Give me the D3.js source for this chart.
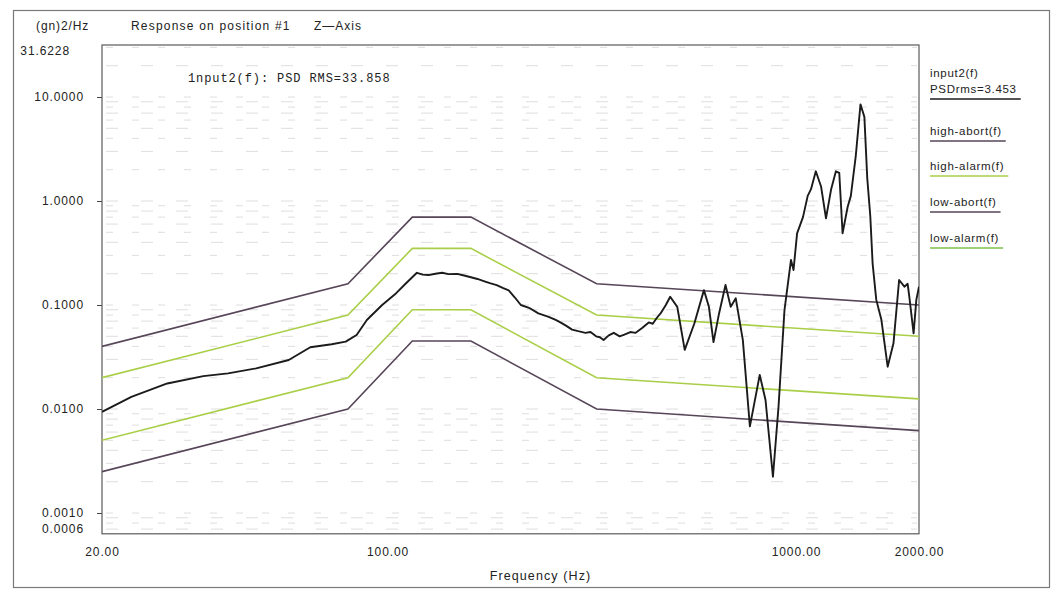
<!DOCTYPE html>
<html>
<head>
<meta charset="utf-8">
<script src="https://cdn.jsdelivr.net/npm/d3@7"></script>
<style>
  html, body { margin: 0; padding: 0; background: #fff; }
  svg { display: block; }
  text { font-family: "Liberation Sans", Arial, sans-serif; fill: #222; }
</style>
</head>
<body>
<svg id="chart" width="1056" height="592"></svg>
<script>
// ---- data ----
const respFreq = [20, 23.6, 28.9, 35.4, 40.7, 47.7, 57.3, 64.7, 73, 79, 84, 89, 97, 105, 111, 118, 122, 126, 131, 136, 141, 148, 154, 160, 166, 172, 178, 185, 192, 198, 205, 212, 222, 234, 248, 258, 265, 274, 283, 293, 305, 314, 324, 331, 338, 348, 358, 370, 380, 393, 405, 420, 436, 446, 456, 466, 480, 492, 512, 534, 564, 595, 612, 628, 648, 672, 692, 712, 741, 771, 815, 842, 878, 906, 937, 972, 986, 1006, 1040, 1068, 1088, 1118, 1152, 1184, 1218, 1252, 1276, 1300, 1338, 1362, 1400, 1438, 1470, 1494, 1520, 1540, 1572, 1618, 1676, 1732, 1788, 1842, 1876, 1894, 1940, 1970, 2000];
const respPSD  = [0.0094, 0.0131, 0.0176, 0.0207, 0.022, 0.0246, 0.0296, 0.0392, 0.0419, 0.0444, 0.0515, 0.0718, 0.1, 0.13, 0.162, 0.204, 0.196, 0.194, 0.2, 0.204, 0.198, 0.199, 0.192, 0.185, 0.178, 0.17, 0.162, 0.155, 0.145, 0.138, 0.118, 0.1, 0.094, 0.083, 0.077, 0.072, 0.068, 0.063, 0.058, 0.056, 0.054, 0.055, 0.05, 0.049, 0.046, 0.051, 0.054, 0.05, 0.052, 0.055, 0.054, 0.06, 0.068, 0.066, 0.075, 0.083, 0.1, 0.12, 0.096, 0.037, 0.0667, 0.139, 0.096, 0.044, 0.083, 0.156, 0.096, 0.116, 0.046, 0.0068, 0.0213, 0.0122, 0.00223, 0.0105, 0.0895, 0.271, 0.217, 0.489, 0.7, 1.12, 1.3, 1.93, 1.37, 0.68, 1.28, 1.93, 1.86, 0.49, 0.88, 1.12, 2.68, 8.5, 6.44, 1.66, 0.71, 0.25, 0.112, 0.072, 0.0255, 0.0428, 0.174, 0.15, 0.16, 0.12, 0.0534, 0.112, 0.15];

const limitFreq = [20, 80, 115, 160, 325, 2000];
const highAbort = [0.04, 0.16, 0.7, 0.7, 0.16, 0.1];
const highAlarm = [0.02, 0.08, 0.35, 0.35, 0.08, 0.05];
const lowAlarm  = [0.005, 0.02, 0.09, 0.09, 0.02, 0.0125];
const lowAbort  = [0.0025, 0.01, 0.045, 0.045, 0.01, 0.0062];

const xTickValues = [20, 100, 1000, 2000];
const xTickLabels = ["20.00", "100.00", "1000.00", "2000.00"];
const yTickValues = [31.6228, 10, 1, 0.1, 0.01, 0.001, 0.000631];
const yTickLabels = ["31.6228", "10.0000", "1.0000", "0.1000", "0.0100", "0.0010", "0.0006"];

const legendLabels = [["input2(f)", "PSDrms=3.453"], ["high-abort(f)"], ["high-alarm(f)"], ["low-abort(f)"], ["low-alarm(f)"]];
const titleTexts = ["(gn)2/Hz", "Response on position #1", "Z\u2014Axis"];
const annotation = "1nput2(f): PSD RMS=33.858";
const xTitle = "Frequency (Hz)";

// ---- layout ----
const L = 102, R = 919, T = 45, B = 533.8;
const abortColor = "#564658", alarmColor = "#a9cf48", respColor = "#1b1b1b";

const svg = d3.select("#chart");
const x = d3.scaleLog().domain([20, 2000]).range([L, R]);
const y = d3.scaleLog().domain([0.000631, 31.6228]).range([B, T]);

// outer frame
svg.append("rect").attr("x", 13.5).attr("y", 10.5).attr("width", 1036).attr("height", 577)
  .attr("fill", "none").attr("stroke", "#7a7a7a").attr("stroke-width", 1.2);

// faint log grid (dotted)
const gridVals = [];
for (let k = -4; k <= 1; k++) for (let m = 1; m <= 9; m++) {
  const v = m * Math.pow(10, k);
  if (v > 0.000631 && v < 31.6) gridVals.push(v);
}
svg.append("g").selectAll("line").data(gridVals).join("line")
  .attr("x1", L + 4).attr("x2", R - 2)
  .attr("y1", d => y(d)).attr("y2", d => y(d))
  .attr("stroke", "#dedede").attr("stroke-width", 1)
  .attr("stroke-dasharray", (d, i) => (i % 2 ? "7,19" : "12,23"));

// plot frame
svg.append("rect").attr("x", L).attr("y", T).attr("width", R - L).attr("height", B - T)
  .attr("fill", "none").attr("stroke", "#5a5a5a").attr("stroke-width", 1.2);

// y axis
const yAxis = d3.axisLeft(y).tickValues(yTickValues).tickSize(5).tickPadding(13)
  .tickFormat((d, i) => yTickLabels[i]);
const gy = svg.append("g").attr("transform", `translate(${L},0)`).call(yAxis);
gy.select(".domain").remove();
gy.selectAll(".tick line").attr("stroke", "#444")
  .attr("opacity", (d, i) => (i === 0 || i === yTickValues.length - 1) ? 0 : 1);
gy.selectAll(".tick text").attr("font-size", 12).attr("letter-spacing", 0.9)
  .attr("fill", "#222").style("font-family", "'Liberation Sans', Arial, sans-serif")
  .attr("dx", (d, i) => i === 0 ? -14 : 0)
  .attr("dy", (d, i) => i === 0 ? "0.75em" : (i === yTickValues.length - 1 ? "-0.1em" : "0.32em"));

// x axis
const xAxis = d3.axisBottom(x).tickValues(xTickValues).tickSize(0).tickPadding(14)
  .tickFormat((d, i) => xTickLabels[i]);
const gx = svg.append("g").attr("transform", `translate(0,${B})`).call(xAxis);
gx.select(".domain").remove();
gx.selectAll(".tick text").attr("font-size", 12).attr("letter-spacing", 0.9)
  .attr("fill", "#222").style("font-family", "'Liberation Sans', Arial, sans-serif");

// axis title
svg.append("text").attr("x", (L + R) / 2 + 30).attr("y", 580).attr("text-anchor", "middle")
  .attr("font-size", 12.5).attr("letter-spacing", 1.1).text(xTitle);

// header texts
svg.append("text").attr("x", 36).attr("y", 30).attr("font-size", 12).attr("letter-spacing", 0.9).text(titleTexts[0]);
svg.append("text").attr("x", 131).attr("y", 30).attr("font-size", 12).attr("letter-spacing", 1.2).text(titleTexts[1]);
svg.append("text").attr("x", 314).attr("y", 30).attr("font-size", 12).attr("letter-spacing", 1.0).text(titleTexts[2]);

// annotation
svg.append("text").attr("x", 188).attr("y", 82)
  .style("font-family", "'Liberation Mono', 'DejaVu Sans Mono', monospace")
  .attr("font-size", 12).attr("letter-spacing", 0.9).attr("fill", "#111")
  .text(annotation);

// limit lines
const limLine = d3.line().x(d => x(d[0])).y(d => y(d[1]));
const limits = [
  { vals: highAbort, color: abortColor },
  { vals: highAlarm, color: alarmColor },
  { vals: lowAlarm, color: alarmColor },
  { vals: lowAbort, color: abortColor }
];
svg.append("clipPath").attr("id", "plotclip").append("rect")
  .attr("x", L).attr("y", T).attr("width", R - L).attr("height", B - T);
const plot = svg.append("g").attr("clip-path", "url(#plotclip)");
limits.forEach(l => {
  plot.append("path").datum(limitFreq.map((f, i) => [f, l.vals[i]]))
    .attr("d", limLine).attr("fill", "none").attr("stroke", l.color).attr("stroke-width", 1.6);
});

// response curve
plot.append("path").datum(respFreq.map((f, i) => [f, respPSD[i]]))
  .attr("d", limLine).attr("fill", "none").attr("stroke", respColor)
  .attr("stroke-width", 1.9).attr("stroke-linejoin", "round");

// legend
const legendColors = [respColor, abortColor, alarmColor, abortColor, "#7cc24a"];
const legendY = [77, 135, 170, 206, 242];
legendLabels.forEach((lines, i) => {
  const g = svg.append("g");
  let last;
  lines.forEach((t, j) => {
    last = g.append("text").attr("x", 930).attr("y", legendY[i] + j * 16)
      .attr("font-size", 11.5).attr("letter-spacing", 0.7).text(t);
  });
  const w = last.node().getComputedTextLength();
  const uy = legendY[i] + (lines.length - 1) * 16 + 6;
  g.append("line").attr("x1", 930).attr("x2", 930 + w + 4).attr("y1", uy).attr("y2", uy)
    .attr("stroke", legendColors[i]).attr("stroke-width", 1.6);
});
</script>
</body>
</html>
